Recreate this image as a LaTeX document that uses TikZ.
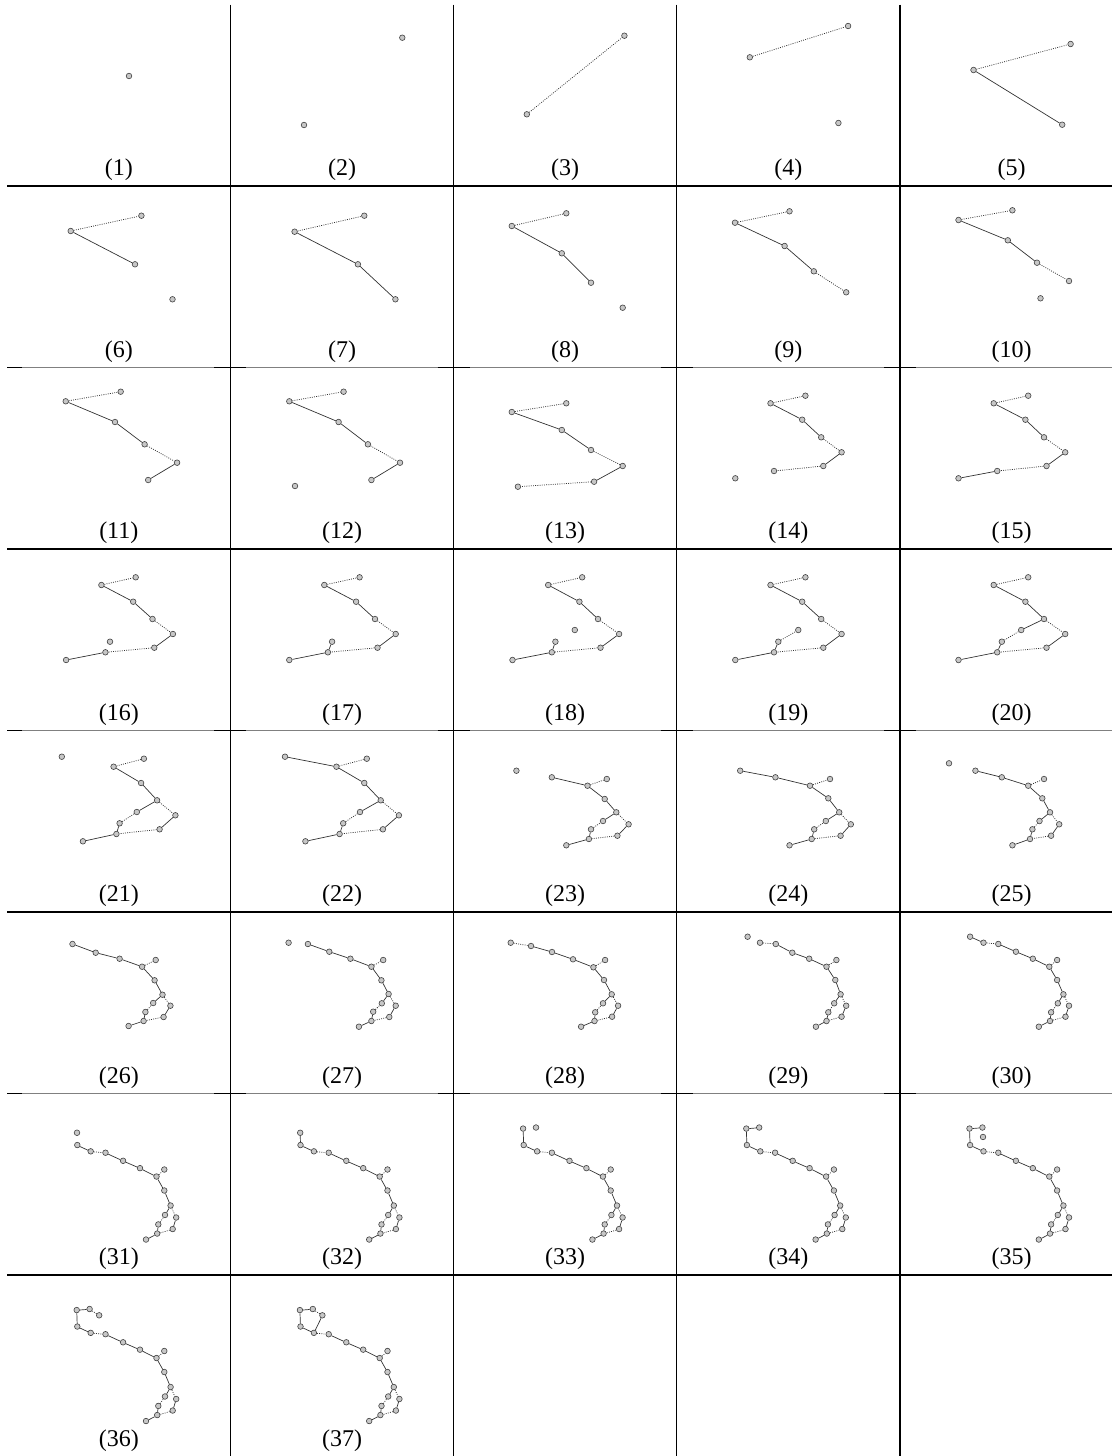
\documentclass[tikz,border=0pt]{standalone}
\usepackage{fontspec}
\setmainfont{Liberation Serif}
\tikzset{
  vtx/.style={circle, draw=black!75, fill=black!22, line width=0.6pt,
    inner sep=0pt, minimum size=5.6pt},
  firm/.style={black!80, line width=0.7pt},
  loose/.style={black!80, line width=0.75pt, dash pattern=on 0.9pt off 1.3pt},
  rule/.style={line width=1.1pt},
  tag/.style={anchor=base, font=\fontsize{24}{28}\selectfont, inner sep=0pt}
}
% points and links of one frame
\newcommand\drawpts[2]{\foreach \x/\y [count=\i] in {#2} \node[vtx] (n#1-\i) at (\x,\y) {};}
\newcommand\drawlinks[2]{\foreach \a/\b/\s in {#2} \draw[\s] (n#1-\a) -- (n#1-\b);}

\begin{document}
\begin{tikzpicture}[x=1pt, y=-1pt]
\useasboundingbox (0,0) rectangle (1112,1456);

% table rules
\foreach \x in {230.4,453.6,676.8,900} \draw[rule] (\x,4.5) -- (\x,1456);
\foreach \y in {186,549,912,1275} \draw[rule] (7.2,\y) -- (1112,\y);
\foreach \y in {367.5,730.5,1093.5} {
  \draw[rule, black!50] (7.2,\y) -- (1112,\y);
  \draw[rule] (7.2,\y) -- (22,\y);
  \foreach \x in {230.4,453.6,676.8,900} \draw[rule] (\x-16,\y) -- (\x+16,\y);
}

% frame numbers
\foreach \n in {1,...,37} {
  \pgfmathtruncatemacro\cc{mod(\n-1,5)}
  \pgfmathtruncatemacro\rr{(\n-1)/5}
  \node[tag] (t\n) at ({118.8+223.2*\cc},{181.5*(\rr+1)-5.8}) {(\n)};
}

% frames 1--5
\drawpts{1}{129/76}
\drawpts{2}{304/125, 402.3/37.7}
\drawpts{3}{526.8/114.3, 624.4/35.7}
\drawlinks{3}{1/2/loose}
\drawpts{4}{749.8/57.3, 848.1/26, 838.4/123}
\drawlinks{4}{1/2/loose}
\drawpts{5}{973.5/70, 1070.6/44, 1062.2/124.7}
\drawlinks{5}{1/2/loose, 1/3/firm}

% frames 6--10
\drawpts{6}{70.7/231, 141.4/215.7, 135/264.3, 172.5/299.3}
\drawlinks{6}{1/2/loose, 1/3/firm}
\drawpts{7}{294.6/231.7, 364.3/215.7, 357.9/264.3, 395.4/299.3}
\drawlinks{7}{1/2/loose, 1/3/firm, 3/4/firm}
\drawpts{8}{511.8/226, 566.3/213.3, 561.8/253.3, 591/282.7, 622.7/307.7}
\drawlinks{8}{1/2/loose, 1/3/firm, 3/4/firm}
\drawpts{9}{735/222.7, 789.5/211.3, 784.6/246, 813.8/271.3, 846.2/292.3}
\drawlinks{9}{1/2/loose, 1/3/firm, 3/4/firm, 4/5/loose}
\drawpts{10}{958.5/220, 1012.4/210.3, 1007.8/240.3, 1037/262.7, 1069/281, 1040.5/298.3}
\drawlinks{10}{1/2/loose, 1/3/firm, 3/4/firm, 4/5/loose}

% frames 11--15
\drawpts{11}{65.7/401.3, 120.7/391.7, 115/422, 144.6/444.3, 177.1/462.7, 148.2/480}
\drawlinks{11}{1/2/loose, 1/3/firm, 3/4/firm, 4/5/loose, 5/6/firm}
\drawpts{12}{289.3/401.3, 343.6/391.7, 338.6/422, 367.9/444.3, 400/462.7, 371.4/480, 295/486}
\drawlinks{12}{1/2/loose, 1/3/firm, 3/4/firm, 4/5/loose, 5/6/firm}
\drawpts{13}{511.8/412, 566.3/403.3, 561.8/430, 591/450, 622.7/466, 594.1/481.7, 517.9/486.7}
\drawlinks{13}{1/2/loose, 1/3/firm, 3/4/firm, 4/5/loose, 5/6/firm, 6/7/loose}
\drawpts{14}{770.5/403.3, 805.4/395.7, 802.2/419.7, 821.2/437.3, 841.6/452.3, 823.3/466, 774/471, 735.3/478.3}
\drawlinks{14}{1/2/loose, 1/3/firm, 3/4/firm, 4/5/loose, 5/6/firm, 6/7/loose}
\drawpts{15}{993.7/403.3, 1028.2/395.7, 1025.4/419.7, 1044/437.3, 1065.2/452.3, 1046.5/466, 997.2/471, 958.5/478.3}
\drawlinks{15}{1/2/loose, 1/3/firm, 3/4/firm, 4/5/loose, 5/6/firm, 6/7/loose, 7/8/firm}

% frames 16--20
\drawpts{16}{101.4/585, 135.7/577.3, 133.2/601.7, 152.5/619, 172.9/634, 154.3/647.7, 105.4/652.3, 66.1/660, 110/641.7}
\drawlinks{16}{1/2/loose, 1/3/firm, 3/4/firm, 4/5/loose, 5/6/firm, 6/7/loose, 7/8/firm}
\drawpts{17}{324.3/585, 359.6/577.3, 356.1/601.7, 375/619, 395.7/634, 377.5/647.7, 327.9/652.3, 289.3/660, 332.1/641.7}
\drawlinks{17}{1/2/loose, 1/3/firm, 3/4/firm, 4/5/loose, 5/6/firm, 6/7/loose, 7/8/firm, 7/9/firm}
\drawpts{18}{548.2/585, 582.2/577.3, 579.4/601.7, 598/619, 619.1/634, 600.5/647.7, 551.8/652.3, 512.5/660, 555.4/641.7, 574.8/630}
\drawlinks{18}{1/2/loose, 1/3/firm, 3/4/firm, 4/5/loose, 5/6/firm, 6/7/loose, 7/8/firm, 7/9/firm}
\drawpts{19}{770.5/585, 805.4/577.3, 802.2/601.7, 821.2/619, 841.6/634, 823.3/647.7, 774/652.3, 735.3/660, 778.3/641.7, 798.3/630}
\drawlinks{19}{1/2/loose, 1/3/firm, 3/4/firm, 4/5/loose, 5/6/firm, 6/7/loose, 7/8/firm, 7/9/firm, 9/10/loose}
\drawpts{20}{993.7/585, 1028.2/577.3, 1025.4/601.7, 1044/619, 1065.2/634, 1046.5/647.7, 997.2/652.3, 958.5/660, 1001.8/641.7, 1021.2/630}
\drawlinks{20}{1/2/loose, 1/3/firm, 3/4/firm, 4/5/loose, 5/6/firm, 6/7/loose, 7/8/firm, 7/9/firm, 9/10/loose, 10/4/firm}

% frames 21--25
\drawpts{21}{113.6/766.7, 143.9/758.7, 141.1/783, 157.1/800.3, 175.4/815.3, 159.6/829.3, 116.4/834, 82.9/841.3, 119.6/823.3, 136.8/812, 61.8/756.7}
\drawlinks{21}{1/2/loose, 1/3/firm, 3/4/firm, 4/5/loose, 5/6/firm, 6/7/loose, 7/8/firm, 7/9/firm, 9/10/loose, 10/4/firm}
\drawpts{22}{336.4/766.7, 366.8/758.7, 364.3/783, 380.7/800.3, 398.9/815.3, 382.9/829.3, 339.6/834, 305.4/841.3, 343.2/823.3, 360/812, 285/756.7}
\drawlinks{22}{1/2/loose, 1/3/firm, 3/4/firm, 4/5/loose, 5/6/firm, 6/7/loose, 7/8/firm, 7/9/firm, 9/10/loose, 10/4/firm, 11/1/firm}
\drawpts{23}{587.5/785.7, 606.8/779, 604.7/799, 616.3/812.3, 628.6/824.3, 617.4/835.7, 588.9/839, 566.3/845.3, 591/829.3, 603/821, 551.8/777.3, 516.4/770.7}
\drawlinks{23}{1/2/loose, 1/3/firm, 3/4/firm, 4/5/loose, 5/6/firm, 6/7/loose, 7/8/firm, 7/9/firm, 9/10/loose, 10/4/firm, 11/1/firm}
\drawpts{24}{810/785.7, 830/779, 828.3/798.3, 839.2/812.3, 850.8/824.3, 840.6/835.7, 811.7/839, 789.5/845.3, 814.2/829.3, 825.8/821, 775.4/777.3, 740.2/770.7}
\drawlinks{24}{1/2/loose, 1/3/firm, 3/4/firm, 4/5/loose, 5/6/firm, 6/7/loose, 7/8/firm, 7/9/firm, 9/10/loose, 10/4/firm, 11/1/firm, 12/11/firm}
\drawpts{25}{1028.2/785.7, 1044/779, 1042.3/798.3, 1050/812.3, 1059.2/824.3, 1051.1/835.7, 1030/839, 1012.4/845.3, 1032.4/829.3, 1039.5/821, 1001.8/777.3, 975.4/770.7, 949/763.3}
\drawlinks{25}{1/2/loose, 1/3/firm, 3/4/firm, 4/5/loose, 5/6/firm, 6/7/loose, 7/8/firm, 7/9/firm, 9/10/loose, 10/4/firm, 11/1/firm, 12/11/firm}

% frames 26--30
\drawpts{26}{142.1/966.7, 155.7/960, 154.6/980.3, 162.5/994.7, 170.4/1005.7, 163.6/1017, 143.6/1021, 128.6/1026, 145.4/1012, 153.2/1003, 119.6/958.7, 95.7/952.7, 72.5/944}
\drawlinks{26}{1/2/loose, 1/3/firm, 3/4/firm, 4/5/loose, 5/6/firm, 6/7/loose, 7/8/firm, 7/9/firm, 9/10/loose, 10/4/firm, 11/1/firm, 12/11/firm, 13/12/firm}
\drawpts{27}{371.4/966.7, 383.2/960, 381.4/980.3, 388.6/994, 395.7/1005.7, 389.3/1017, 371.4/1021, 358.9/1026.7, 373.2/1011.7, 381.8/1003.3, 350.4/958.7, 329.3/951.7, 307.9/944, 288.6/942.7}
\drawlinks{27}{1/2/loose, 1/3/firm, 3/4/firm, 4/5/loose, 5/6/firm, 6/7/loose, 7/8/firm, 7/9/firm, 9/10/loose, 10/4/firm, 11/1/firm, 12/11/firm, 13/12/firm}
\drawpts{28}{593.4/967.3, 605.1/960, 604/980, 611.7/994.3, 618.1/1005.7, 612.1/1016.7, 594.5/1021, 581.1/1026.7, 595.2/1012.3, 603/1003.3, 573/959.3, 552/952, 531/946, 510.7/942.7}
\drawlinks{28}{1/2/loose, 1/3/firm, 3/4/firm, 4/5/loose, 5/6/firm, 6/7/loose, 7/8/firm, 7/9/firm, 9/10/loose, 10/4/firm, 11/1/firm, 12/11/firm, 13/12/firm, 14/13/loose}
\drawpts{29}{826.5/966.7, 836.4/960, 835.3/980, 840.6/994.3, 846.2/1005.7, 841.6/1016.7, 826.5/1021, 815.9/1026.7, 828.3/1012.3, 834.2/1003.3, 809.2/958.7, 792.3/952.7, 775.8/944, 760/942.7, 747.6/936.7}
\drawlinks{29}{1/2/loose, 1/3/firm, 3/4/firm, 4/5/loose, 5/6/firm, 6/7/loose, 7/8/firm, 7/9/firm, 9/10/loose, 10/4/firm, 11/1/firm, 12/11/firm, 13/12/firm, 14/13/loose}
\drawpts{30}{1049.3/966.7, 1057.1/960, 1057.1/980, 1063.4/994.3, 1069/1005.7, 1065.5/1016.7, 1050/1021, 1038.8/1026.7, 1051.1/1012.3, 1057.8/1003.3, 1032.8/958.7, 1015.9/951.7, 998.3/944, 983.5/942.7, 970.1/936.7}
\drawlinks{30}{1/2/loose, 1/3/firm, 3/4/firm, 4/5/loose, 5/6/firm, 6/7/loose, 7/8/firm, 7/9/firm, 9/10/loose, 10/4/firm, 11/1/firm, 12/11/firm, 13/12/firm, 14/13/loose, 15/14/firm}

% frames 31--37 (same layout as frame 30, moved and stretched)
\begin{scope}[shift={(-892.8,161.5)}, yscale=1.05]
\drawpts{31}{1049.3/966.7, 1057.1/960, 1057.1/980, 1063.4/994.3, 1069/1005.7, 1065.5/1016.7, 1050/1021, 1038.8/1026.7, 1051.1/1012.3, 1057.8/1003.3, 1032.8/958.7, 1015.9/951.7, 998.3/944, 983.5/942.7, 970.1/936.7, 969.8/925}
\drawlinks{31}{1/2/loose, 1/3/firm, 3/4/firm, 4/5/loose, 5/6/firm, 6/7/loose, 7/8/firm, 7/9/firm, 9/10/loose, 10/4/firm, 11/1/firm, 12/11/firm, 13/12/firm, 14/13/loose, 15/14/firm}
\end{scope}
\begin{scope}[shift={(-669.6,161.5)}, yscale=1.05]
\drawpts{32}{1049.3/966.7, 1057.1/960, 1057.1/980, 1063.4/994.3, 1069/1005.7, 1065.5/1016.7, 1050/1021, 1038.8/1026.7, 1051.1/1012.3, 1057.8/1003.3, 1032.8/958.7, 1015.9/951.7, 998.3/944, 983.5/942.7, 970.1/936.7, 969.8/925}
\drawlinks{32}{1/2/loose, 1/3/firm, 3/4/firm, 4/5/loose, 5/6/firm, 6/7/loose, 7/8/firm, 7/9/firm, 9/10/loose, 10/4/firm, 11/1/firm, 12/11/firm, 13/12/firm, 14/13/loose, 15/14/firm, 16/15/firm}
\end{scope}
\begin{scope}[shift={(-446.4,161.5)}, yscale=1.05]
\drawpts{33}{1049.3/966.7, 1057.1/960, 1057.1/980, 1063.4/994.3, 1069/1005.7, 1065.5/1016.7, 1050/1021, 1038.8/1026.7, 1051.1/1012.3, 1057.8/1003.3, 1032.8/958.7, 1015.9/951.7, 998.3/944, 983.5/942.7, 970.1/936.7, 969.5/921, 982.4/920}
\drawlinks{33}{1/2/loose, 1/3/firm, 3/4/firm, 4/5/loose, 5/6/firm, 6/7/loose, 7/8/firm, 7/9/firm, 9/10/loose, 10/4/firm, 11/1/firm, 12/11/firm, 13/12/firm, 14/13/loose, 15/14/firm, 16/15/firm}
\end{scope}
\begin{scope}[shift={(-223.2,161.5)}, yscale=1.05]
\drawpts{34}{1049.3/966.7, 1057.1/960, 1057.1/980, 1063.4/994.3, 1069/1005.7, 1065.5/1016.7, 1050/1021, 1038.8/1026.7, 1051.1/1012.3, 1057.8/1003.3, 1032.8/958.7, 1015.9/951.7, 998.3/944, 983.5/942.7, 970.1/936.7, 969.5/921, 982.4/920}
\drawlinks{34}{1/2/loose, 1/3/firm, 3/4/firm, 4/5/loose, 5/6/firm, 6/7/loose, 7/8/firm, 7/9/firm, 9/10/loose, 10/4/firm, 11/1/firm, 12/11/firm, 13/12/firm, 14/13/loose, 15/14/firm, 16/15/firm, 17/16/firm}
\end{scope}
\begin{scope}[shift={(0,161.5)}, yscale=1.05]
\drawpts{35}{1049.3/966.7, 1057.1/960, 1057.1/980, 1063.4/994.3, 1069/1005.7, 1065.5/1016.7, 1050/1021, 1038.8/1026.7, 1051.1/1012.3, 1057.8/1003.3, 1032.8/958.7, 1015.9/951.7, 998.3/944, 983.5/942.7, 970.1/936.7, 969.5/921, 982.4/920, 983/929}
\drawlinks{35}{1/2/loose, 1/3/firm, 3/4/firm, 4/5/loose, 5/6/firm, 6/7/loose, 7/8/firm, 7/9/firm, 9/10/loose, 10/4/firm, 11/1/firm, 12/11/firm, 13/12/firm, 14/13/loose, 15/14/firm, 16/15/firm, 17/16/firm}
\end{scope}
\begin{scope}[shift={(-892.8,343)}, yscale=1.05]
\drawpts{36}{1049.3/966.7, 1057.1/960, 1057.1/980, 1063.4/994.3, 1069/1005.7, 1065.5/1016.7, 1050/1021, 1038.8/1026.7, 1051.1/1012.3, 1057.8/1003.3, 1032.8/958.7, 1015.9/951.7, 998.3/944, 983.5/942.7, 970.1/936.7, 969.5/921, 982.4/920, 992/926}
\drawlinks{36}{1/2/loose, 1/3/firm, 3/4/firm, 4/5/loose, 5/6/firm, 6/7/loose, 7/8/firm, 7/9/firm, 9/10/loose, 10/4/firm, 11/1/firm, 12/11/firm, 13/12/firm, 14/13/loose, 15/14/firm, 16/15/firm, 17/16/firm, 18/17/loose}
\end{scope}
\begin{scope}[shift={(-669.6,343)}, yscale=1.05]
\drawpts{37}{1049.3/966.7, 1057.1/960, 1057.1/980, 1063.4/994.3, 1069/1005.7, 1065.5/1016.7, 1050/1021, 1038.8/1026.7, 1051.1/1012.3, 1057.8/1003.3, 1032.8/958.7, 1015.9/951.7, 998.3/944, 983.5/942.7, 970.1/936.7, 969.5/921, 982.4/920, 992/926}
\drawlinks{37}{1/2/loose, 1/3/firm, 3/4/firm, 4/5/loose, 5/6/firm, 6/7/loose, 7/8/firm, 7/9/firm, 9/10/loose, 10/4/firm, 11/1/firm, 12/11/firm, 13/12/firm, 14/13/loose, 15/14/firm, 16/15/firm, 17/16/firm, 18/17/loose, 18/14/firm}
\end{scope}
\end{tikzpicture}
\end{document}
